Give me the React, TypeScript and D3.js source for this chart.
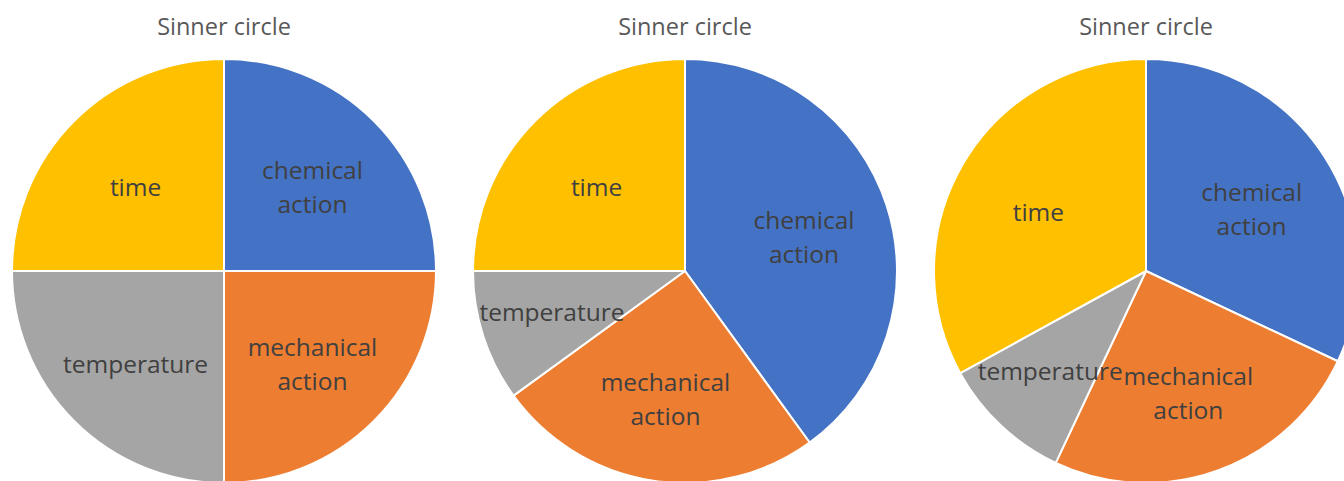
import React, { useEffect, useRef } from "react";
import * as d3 from "d3";

const categories = ["chemical action", "mechanical action", "temperature", "time"];
const chartTitles = ["Sinner circle", "Sinner circle", "Sinner circle"];
const seriesFirst = [25, 25, 25, 25];
const seriesSecond = [40, 25, 10, 25];
const seriesThird = [32, 25, 10, 33];
const colors = ["#4472C4", "#ED7D31", "#A5A5A5", "#FFC000"];

const width = 1344;
const height = 481;
const radius = 212;

export default function App() {
  const ref = useRef<SVGSVGElement>(null);

  useEffect(() => {
    const svg = d3.select(ref.current);
    svg.selectAll("*").remove();

    const allSeries = [seriesFirst, seriesSecond, seriesThird];
    // centers of the three pies across the page
    const xScale = d3.scalePoint<number>().domain([0, 1, 2]).range([224, 1146]);
    const cy = 271;

    const color = d3.scaleOrdinal<string, string>().domain(categories).range(colors);
    const pie = d3
      .pie<number>()
      .sort(null)
      .value((d) => d);
    const arc = d3.arc<d3.PieArcDatum<number>>().innerRadius(0).outerRadius(radius);

    allSeries.forEach((values, i) => {
      const cx = xScale(i)!;
      const total = d3.sum(values);
      const g = svg.append("g").attr("transform", `translate(${cx},${cy})`);

      const arcs = pie(values);

      g.selectAll("path")
        .data(arcs)
        .enter()
        .append("path")
        .attr("d", arc)
        .attr("fill", (d, j) => color(categories[j]))
        .attr("stroke", "#fff")
        .attr("stroke-width", 2)
        .attr("stroke-linejoin", "round");

      const labels = g
        .selectAll("text.label")
        .data(arcs)
        .enter()
        .append("text")
        .attr("class", "label")
        .attr("transform", (d) => {
          // small slices get their label pushed further out
          const small = d.value / total < 0.15;
          const r = small ? radius * 0.66 : radius * 0.59;
          const c = d3.arc<d3.PieArcDatum<number>>().innerRadius(r).outerRadius(r).centroid(d);
          return `translate(${c[0]},${c[1] + (small ? -2 : 5)})`;
        })
        .attr("text-anchor", "middle")
        .attr("font-family", "'Open Sans', sans-serif")
        .attr("font-size", 24.5)
        .attr("fill", "#404040");

      labels.each(function (d, j) {
        const words = categories[j].split(" ");
        const t = d3.select(this);
        words.forEach((w, k) => {
          t.append("tspan")
            .attr("x", 0)
            .attr("y", (k - (words.length - 1) / 2) * 34)
            .attr("dy", "0.35em")
            .text(w);
        });
      });

      svg
        .append("text")
        .attr("x", cx)
        .attr("y", 35)
        .attr("text-anchor", "middle")
        .attr("font-family", "'Open Sans', sans-serif")
        .attr("font-size", 23.5)
        .attr("fill", "#595959")
        .text(chartTitles[i]);
    });
  }, []);

  return (
    <svg
      ref={ref}
      width={width}
      height={height}
      style={{ position: "absolute", left: 0, top: 0, background: "#fff" }}
    />
  );
}
